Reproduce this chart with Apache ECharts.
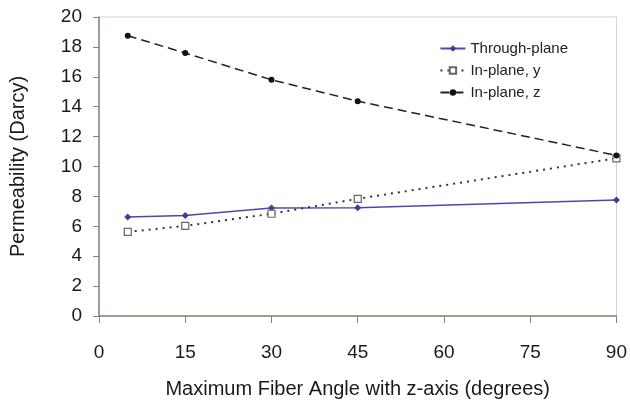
<!DOCTYPE html>
<html><head><meta charset="utf-8">
<script src="https://cdn.jsdelivr.net/npm/echarts@6/dist/echarts.min.js"></script>
<style>html,body{margin:0;padding:0;background:#fff}#c{width:630px;height:404px}</style>
</head><body><div id="c"></div>
<script>
const angles = [5, 15, 30, 45, 90];
const throughPlane = [6.62, 6.73, 7.22, 7.24, 7.76];
const inPlaneY = [5.63, 6.03, 6.84, 7.84, 10.55];
const inPlaneZ = [18.75, 17.59, 15.8, 14.37, 10.74];
const seriesNames = ['Through-plane', 'In-plane, y', 'In-plane, z'];
const xTicks = [0, 15, 30, 45, 60, 75, 90];
const yTicks = [0, 2, 4, 6, 8, 10, 12, 14, 16, 18, 20];

const pairs = arr => angles.map((a, i) => [a, arr[i]]);
const font = 'Liberation Sans, Arial, sans-serif';
const chart = echarts.init(document.getElementById('c'), null, {renderer: 'canvas'});
chart.setOption({
  animation: false,
  backgroundColor: '#fff',
  grid: {left: 98, right: 12, top: 17, bottom: 86, show: true, borderColor: '#d6d0c8', borderWidth: 1},
  legend: {
    right: 57, top: 36, orient: 'vertical', itemGap: 7, itemWidth: 25, itemHeight: 8,
    data: seriesNames,
    textStyle: {fontFamily: font, fontSize: 15, color: '#222'}
  },
  xAxis: {
    type: 'value', min: 0, max: 90, interval: 15,
    name: 'Maximum Fiber Angle with z-axis (degrees)', nameLocation: 'middle', nameGap: 63,
    nameTextStyle: {fontFamily: font, fontSize: 20, color: '#1a1a1a'},
    axisLine: {lineStyle: {color: '#8a8378', width: 1.5}},
    axisTick: {show: true, length: 7, lineStyle: {color: '#8a8378'}},
    axisLabel: {fontFamily: font, fontSize: 19, color: '#1a1a1a', margin: 27,
      formatter: v => xTicks.includes(v) ? String(v) : ''},
    splitLine: {show: false}
  },
  yAxis: {
    type: 'value', min: 0, max: 20, interval: 2,
    name: 'Permeability (Darcy)', nameLocation: 'middle', nameGap: 71, nameRotate: 90,
    nameTextStyle: {fontFamily: font, fontSize: 20, color: '#1a1a1a'},
    axisLine: {show: true, lineStyle: {color: '#8a8378', width: 1.5}},
    axisTick: {show: true, length: 6, lineStyle: {color: '#8a8378'}},
    axisLabel: {fontFamily: font, fontSize: 19, color: '#1a1a1a', margin: 17,
      formatter: v => yTicks.includes(v) ? String(v) : ''},
    splitLine: {show: false}
  },
  series: [
    {name: seriesNames[0], type: 'line', data: pairs(throughPlane),
      symbol: 'diamond', symbolSize: 7,
      itemStyle: {color: '#3d3d9c'}, lineStyle: {color: '#4a4aa6', width: 1.5}},
    {name: seriesNames[1], type: 'line', data: pairs(inPlaneY),
      symbol: 'rect', symbolSize: 7,
      itemStyle: {color: '#fff', borderColor: '#666', borderWidth: 1.2},
      lineStyle: {color: '#333', width: 2, type: [2, 5]}},
    {name: seriesNames[2], type: 'line', data: pairs(inPlaneZ),
      symbol: 'circle', symbolSize: 6,
      itemStyle: {color: '#111'}, lineStyle: {color: '#222', width: 1.5, type: [9, 5]}}
  ]
});
</script></body></html>
